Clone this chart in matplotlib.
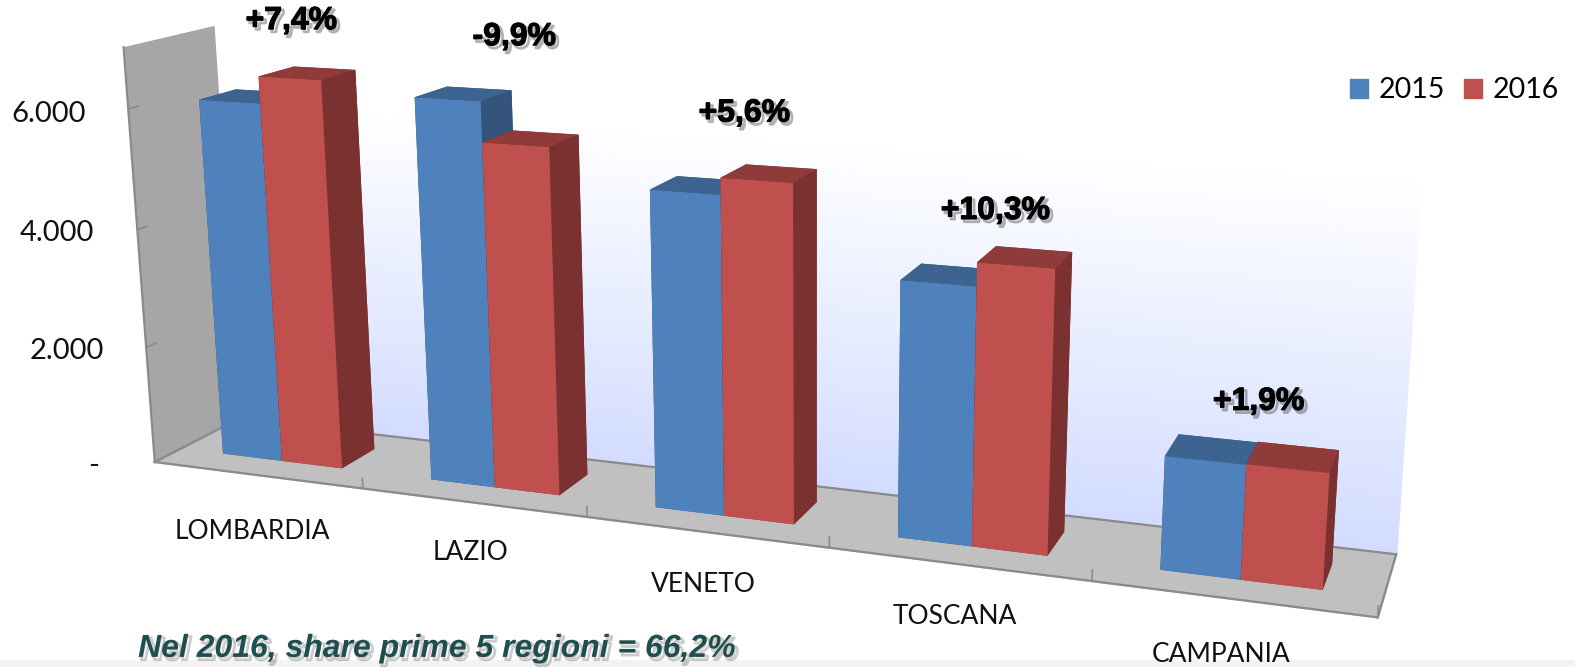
import numpy as np
import matplotlib
matplotlib.use("Agg")
import matplotlib.pyplot as plt
from matplotlib.patches import Patch, Rectangle
import matplotlib.patheffects as pe
from mpl_toolkits.mplot3d.art3d import Poly3DCollection

regioni = ["LOMBARDIA", "LAZIO", "VENETO", "TOSCANA", "CAMPANIA"]
v2015 = [6070, 6320, 5110, 4020, 1740]
v2016 = [6510, 5670, 5370, 4380, 1750]
variazioni = ["+7,4%", "-9,9%", "+5,6%", "+10,3%", "+1,9%"]
tick_val = [0, 2000, 4000, 6000]
tick_lab = ["-", "2.000", "4.000", "6.000"]

plt.rcParams["font.family"] = ["Lato", "DejaVu Sans"]
fig = plt.figure(figsize=(15.75, 6.67), dpi=100)
fig.patches.append(Rectangle((0, 0), 1, 7 / 667, transform=fig.transFigure, color="#f3f3f3", lw=0))

# camera and box fitted on the corners of the reference
W = 1340.1
ax = fig.add_axes([45.7 / 1575, -311.6 / 667, W / 1575, W / 667], projection="3d")
ax.set_xlim(-0.5, 4.5)
ax.set_ylim(0, 1)
ax.set_zlim(0, 7000)
ax.view_init(elev=14.423, azim=-68.851, roll=0.521)
ax.set_proj_type("persp", focal_length=0.318)
ax.set_box_aspect((6.259, 0.805, 2.2))
ax.set_axis_off()
ax.computed_zorder = False

# back wall, white on top and light blue at the floor
bande = np.linspace(0, 7000, 61)
top = np.array(matplotlib.colors.to_rgb("#ffffff"))
bot = np.array(matplotlib.colors.to_rgb("#d2dcff"))
for a, b in zip(bande[:-1], bande[1:]):
    c = bot + (top - bot) * min(1, a / 5600)
    muro = Poly3DCollection([[(-0.5, 1, a), (4.5, 1, a), (4.5, 1, b + 10), (-0.5, 1, b + 10)]], color=c, zorder=0)
    ax.add_collection3d(muro)
    muro.set_clip_on(False)

pavimento = Poly3DCollection([[(-0.5, 0, 0), (4.5, 0, 0), (4.5, 1, 0), (-0.5, 1, 0)]], color="#c0c0c0", zorder=1)
parete = Poly3DCollection([[(-0.5, 0, 0), (-0.5, 1, 0), (-0.5, 1, 7000), (-0.5, 0, 7000)]], color="#a6a6a6", zorder=1)
ax.add_collection3d(pavimento)
ax.add_collection3d(parete)
pavimento.set_clip_on(False)
parete.set_clip_on(False)

grigio = "#8a8a8a"
linee = [([-0.5, 4.5], [0, 0], [0, 0]), ([4.5, 4.5], [0, 1], [0, 0]), ([-0.5, -0.5], [0, 0], [0, 7000]),
         ([-0.5, -0.5], [0, 1], [0, 0]), ([-0.5, 4.5], [1, 1], [0, 0])]
for lx, ly, lz in linee:
    ax.plot(lx, ly, lz, color=grigio, lw=1.6, clip_on=False, zorder=2)
for k in [0.5, 1.5, 2.5, 3.5, 4.5]:
    ax.plot([k, k], [0, 0], [0, 170], color=grigio, lw=1.2, clip_on=False, zorder=2)
for v in tick_val[1:]:
    ax.plot([-0.5, -0.5], [0, 0.11], [v, v], color=grigio, lw=1.2, clip_on=False, zorder=2)

x = np.arange(5)
w = 0.29
col_b = ["#3d6491", "#3d6491", "#4f81bd", "#34547c", "#34547c", "#34547c"] * 5
col_r = ["#8f3b39", "#8f3b39", "#c0504d", "#7a3130", "#7a3130", "#7a3130"] * 5
b1 = ax.bar3d(x - w, 0.3, 0, w, 0.42, v2015, color=col_b, shade=False, zorder=3)
b2 = ax.bar3d(x, 0.3, 0, w, 0.42, v2016, color=col_r, shade=False, zorder=4)
b1.set_clip_on(False)
b2.set_clip_on(False)


def testo(px, py, s, **kw):
    fig.text(px * 1.0045 / 1575, 1 - py * 1.0045 / 667, s, ha="center", va="center", **kw)


pos_tick = [(93, 464), (67, 349), (57, 232), (48, 113)]
for (px, py), lab in zip(pos_tick, tick_lab):
    testo(px, py, lab, fontsize=21, color="#111111")

pos_cat = [(251, 529), (468, 550), (700, 582), (951, 614), (1216, 652)]
for (px, py), nome in zip(pos_cat, regioni):
    testo(px, py, nome, fontsize=19, color="#111111")

ombra = [pe.SimpleLineShadow(offset=(2, -2), alpha=0.3, linewidth=2), pe.Stroke(linewidth=0.8, foreground="black"), pe.Normal()]
pos_var = [(290, 21), (512, 37), (741, 113), (991, 210), (1253, 400)]
for (px, py), t in zip(pos_var, variazioni):
    testo(px, py, t, fontsize=23, fontweight="bold", family=["Liberation Sans"], color="black", path_effects=ombra)

fig.legend(handles=[Patch(color="#4f81bd", label="2015"), Patch(color="#c0504d", label="2016")],
           ncol=2, loc="upper right", bbox_to_anchor=(0.99, 0.884), frameon=False, borderaxespad=0, borderpad=0,
           fontsize=20.5, handlelength=0.62, handleheight=0.68, columnspacing=0.65, handletextpad=0.4)
testo(435, 646, "Nel 2016, share prime 5 regioni = 66,2%", fontsize=23, fontweight="bold",
      style="italic", color="#1f4e4e", family=["Liberation Sans"],
      path_effects=[pe.SimpleLineShadow(offset=(2, -2), alpha=0.2, linewidth=2), pe.Normal()])
fig.savefig("out.png", dpi=100)
